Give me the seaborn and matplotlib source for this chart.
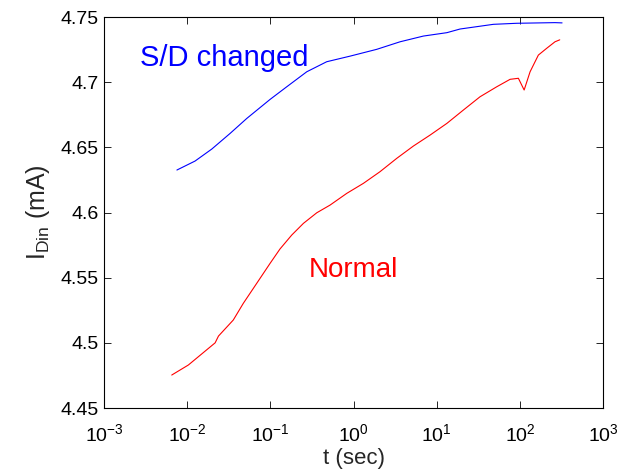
import matplotlib
matplotlib.use('Agg')
import matplotlib.pyplot as plt
import matplotlib.ticker as mticker
import seaborn as sns
import pandas as pd

# (t in sec, I in mA)
t_sd = [0.0075, 0.0124, 0.0197, 0.0327, 0.0519, 0.0989, 0.157, 0.273, 0.474,
        0.906, 1.89, 3.61, 6.89, 13.2, 19.0, 47.8, 91.2, 263.0, 320.0]
i_sd = [4.6326, 4.6395, 4.6487, 4.6607, 4.6722, 4.6868, 4.6965, 4.708, 4.7157,
        4.720, 4.7252, 4.731, 4.7354, 4.738, 4.7408, 4.7444, 4.7452, 4.7457,
        4.7455]

t_norm = [0.0065, 0.0103, 0.0216, 0.0237, 0.0357, 0.0471, 0.0682, 0.0989, 0.130,
          0.180, 0.249, 0.360, 0.520, 0.826, 1.31, 2.07, 3.30, 5.22, 8.28,
          13.2, 20.8, 33.0, 52.5, 75.9, 95.5, 112.0, 132.0, 166.0, 209.0,
          263.0, 300.0]
i_norm = [4.4753, 4.483, 4.5, 4.5052, 4.5175, 4.5303, 4.5456, 4.561, 4.572,
          4.5827, 4.5917, 4.5998, 4.6057, 4.6147, 4.6224, 4.6313, 4.6416,
          4.651, 4.6594, 4.6684, 4.6786, 4.6888, 4.6965, 4.7022, 4.703, 4.694,
          4.708, 4.7208, 4.726, 4.731, 4.7325]

labels = ['S/D changed', 'Normal']

df = pd.concat([
    pd.DataFrame({'t': t_sd, 'I': i_sd, 'case': labels[0]}),
    pd.DataFrame({'t': t_norm, 'I': i_norm, 'case': labels[1]}),
])

sns.set_style('ticks')
plt.rcParams['font.family'] = ['Liberation Sans', 'DejaVu Sans']
plt.rcParams['mathtext.fontset'] = 'custom'
plt.rcParams['mathtext.rm'] = 'Liberation Sans'
plt.rcParams['mathtext.it'] = 'Liberation Sans:italic'

fig = plt.figure(figsize=(6.31, 4.73), dpi=100)
ax = fig.add_axes([0.165, 0.1374, 0.791, 0.8266])

sns.lineplot(data=df, x='t', y='I', hue='case', palette=['#0000ff', '#ff0000'],
             linewidth=0.8, legend=False, sort=False, ax=ax)

ax.set_xscale('log')
ax.set_xlim(1e-3, 1e3)
ax.set_ylim(4.45, 4.75)
ax.set_yticks([4.45, 4.5, 4.55, 4.6, 4.65, 4.7, 4.75])
ax.yaxis.set_major_formatter(mticker.FormatStrFormatter('%g'))
ax.xaxis.set_major_locator(mticker.LogLocator(base=10, numticks=10))
ax.xaxis.set_minor_locator(mticker.NullLocator())
ax.tick_params(direction='in', top=True, right=True, length=5, width=0.6,
               labelsize=14, colors='black')
ax.tick_params(axis='x', pad=11)
ax.tick_params(axis='y', pad=4)
for s in ax.spines.values():
    s.set_linewidth(0.8)
    s.set_color('black')

ax.set_xlabel('t (sec)', fontsize=16, labelpad=2)
ax.set_ylabel(r'I$_{\rm Din}$ (mA)', fontsize=18, labelpad=6)

ax.text(0.0027, 4.7124, 'S/D changed', color='#0000ff', fontsize=21)
ax.text(0.29, 4.5502, 'Normal', color='#ff0000', fontsize=20)

fig.savefig('out.png', dpi=100)
